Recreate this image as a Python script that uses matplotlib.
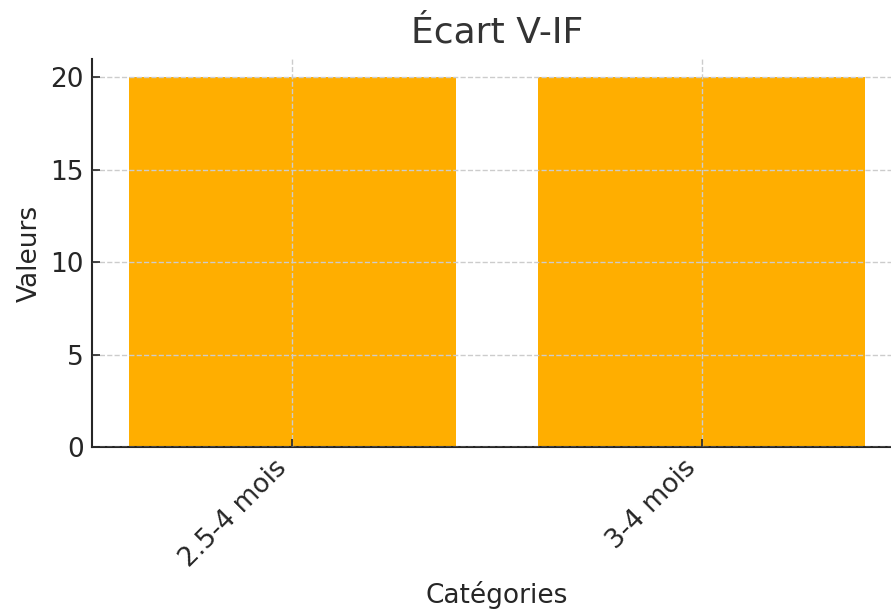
import matplotlib
matplotlib.use("Agg")
import matplotlib.pyplot as plt

# Données du graphique
categories = ["2.5-4 mois", "3-4 mois"]
valeurs = [20, 20]

COULEUR_BARRE = "#FFAE00"
COULEUR_TEXTE = "#262626"

fig = plt.figure(figsize=(8.91, 6.12), dpi=100)
ax = fig.add_axes([92 / 891, 165 / 612, 810 / 891, 388 / 612])

ax.bar(categories, valeurs, width=0.8, color=COULEUR_BARRE)

ax.set_xlim(-0.49, 1.49)
ax.set_ylim(0, 21)
ax.set_yticks([0, 5, 10, 15, 20])

# grille pointillée au-dessus des barres
ax.set_axisbelow(False)
ax.grid(True, linestyle="--", color="#cccccc", linewidth=1.0)

for cote in ("top", "right"):
    ax.spines[cote].set_visible(False)
for cote in ("left", "bottom"):
    ax.spines[cote].set_color(COULEUR_TEXTE)
    ax.spines[cote].set_linewidth(1.5)

ax.tick_params(direction="in", length=6, width=1.2, colors=COULEUR_TEXTE,
               labelsize=19, pad=6)
plt.setp(ax.get_xticklabels(), rotation=45, ha="right", rotation_mode="default")

ax.set_title("Écart V-IF", fontsize=26, color="#333333", pad=12)
ax.set_xlabel("Catégories", fontsize=19, color=COULEUR_TEXTE, labelpad=6)
ax.set_ylabel("Valeurs", fontsize=19, color=COULEUR_TEXTE, labelpad=5)

fig.savefig("out.png", dpi=100)
